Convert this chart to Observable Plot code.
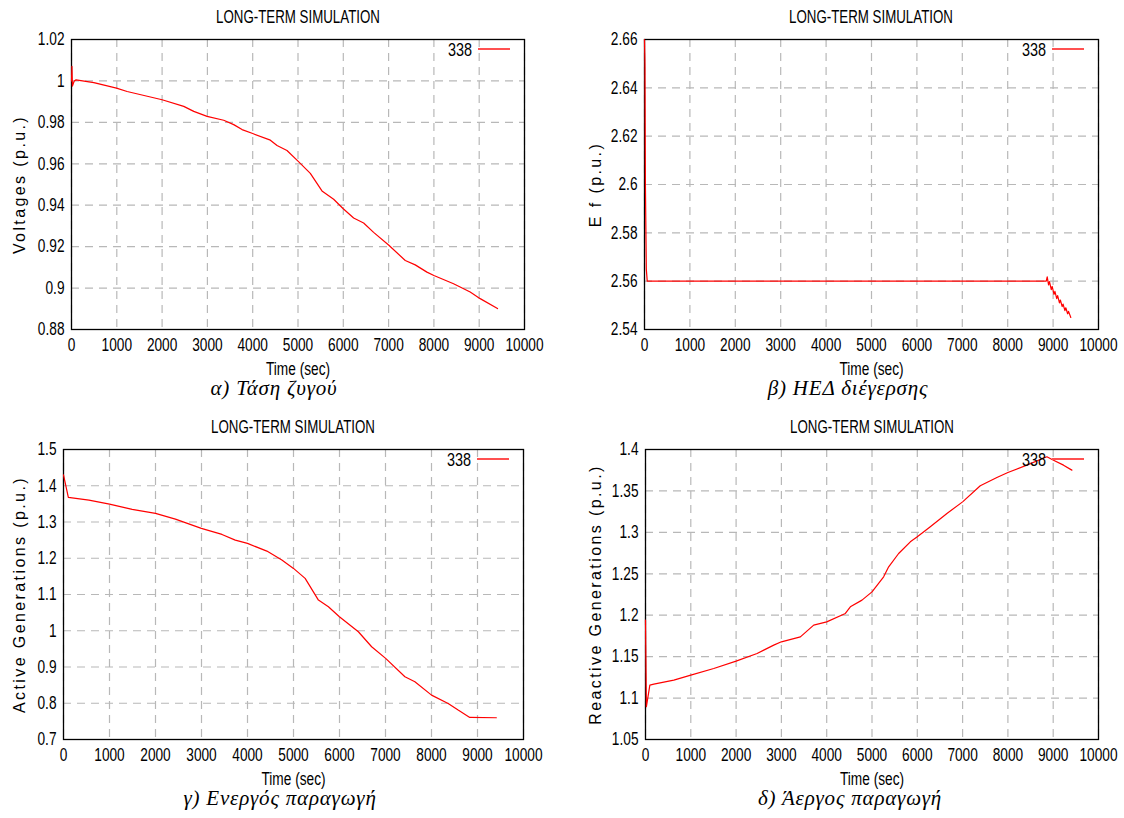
<!DOCTYPE html>
<html><head><meta charset="utf-8">
<script src="https://cdn.jsdelivr.net/npm/d3@7"></script>
<script src="https://cdn.jsdelivr.net/npm/@observablehq/plot@0.6"></script>
<style>
html,body{margin:0;padding:0;background:#fff;}
#root{position:relative;width:1124px;height:818px;overflow:hidden;background:#fff;}
#root svg{position:absolute;overflow:visible;}
.title{position:absolute;font-family:"Liberation Sans",Arial,sans-serif;font-size:19px;color:#000;transform:translateX(-50%) scaleX(0.7);white-space:nowrap;line-height:21px;}
.caption{position:absolute;font-family:"Liberation Serif","Times New Roman",serif;font-style:italic;font-size:21px;letter-spacing:0.8px;color:#000;transform:translateX(-50%);white-space:nowrap;line-height:24px;}
.legtext{position:absolute;font-family:"Liberation Sans",Arial,sans-serif;font-size:19px;color:#000;transform:translate(-100%,-50%) scaleX(0.76);transform-origin:right center;white-space:nowrap;line-height:20px;}
.legline{position:absolute;height:2px;background:#ff5050;}
</style>
</head><body>
<div id="root"></div>
<script>
// ---- Data ----
const xTicks = [0,1000,2000,3000,4000,5000,6000,7000,8000,9000,10000];

// a) bus voltage
const timeV = [0,10,20,60,100,493,993,1228,2000,2478,2699,2993,3360,3581,3765,4000,4390,4537,4757,5000,5272,5529,5787,5993,6228,6449,6669,7000,7368,7588,7846,8000,8434,8801,9022,9404];
const voltage = [1.0,1.007,0.9975,1.0,1.0005,0.9992,0.9965,0.9949,0.9909,0.9877,0.9853,0.9829,0.981,0.9789,0.9765,0.9746,0.9714,0.9688,0.9664,0.9613,0.9554,0.9469,0.9429,0.9384,0.9338,0.9314,0.9269,0.9208,0.9133,0.9112,0.9077,0.9061,0.9021,0.8981,0.8949,0.8901];
const yTicksV = [0.88,0.9,0.92,0.94,0.96,0.98,1,1.02];

// b) field EMF
const timeEf = [0,10,20,40,60,8850,8870,8900,8920,8960,8980,9020,9040,9080,9100,9140,9160,9200,9220,9260,9280,9320,9340,9390];
const ef = [2.66,2.65,2.60,2.565,2.56,2.56,2.5618,2.5585,2.5598,2.5565,2.5578,2.5545,2.5558,2.5528,2.554,2.551,2.5522,2.5495,2.5505,2.5478,2.549,2.5465,2.5475,2.545];
const yTicksEf = [2.54,2.56,2.58,2.6,2.62,2.64,2.66];

// c) active generation
const timeP = [0,105,553,1000,1493,2000,2433,2997,3445,3734,4000,4421,4747,5000,5253,5542,5759,5998,6410,6699,7003,7422,7639,8001,8362,8579,8832,9410];
const active = [1.43,1.3678,1.3605,1.3494,1.3347,1.3237,1.308,1.2823,1.2657,1.2501,1.2409,1.2198,1.195,1.172,1.1444,1.0846,1.0662,1.0386,0.9972,0.9559,0.9237,0.8731,0.8593,0.8225,0.7995,0.7811,0.761,0.760];
const yTicksP = [0.7,0.8,0.9,1,1.1,1.2,1.3,1.4,1.5];

// d) reactive generation
const timeQ = [0,20,96,184,625,1000,1507,2000,2463,2831,3000,3419,3713,4000,4412,4522,4779,5000,5257,5368,5588,5846,6000,6287,6654,7000,7390,7757,8000,8419,8860,9007,9228,9412];
const reactive = [1.194,1.0895,1.1156,1.1168,1.1216,1.1277,1.1357,1.1446,1.1538,1.1639,1.1679,1.1739,1.188,1.192,1.2021,1.2101,1.2182,1.2282,1.2464,1.2584,1.2745,1.2886,1.2946,1.3067,1.3228,1.3368,1.3562,1.3662,1.3722,1.3811,1.3912,1.3871,1.3811,1.3751];
const yTicksQ = [1.05,1.1,1.15,1.2,1.25,1.3,1.35,1.4];

const titles = ["LONG-TERM SIMULATION","LONG-TERM SIMULATION","LONG-TERM SIMULATION","LONG-TERM SIMULATION"];
const yLabels = ["Voltages (p.u.)","E f (p.u.)","Active Generations (p.u.)","Reactive Generations (p.u.)"];
const captions = ["α) Τάση ζυγού","β) ΗΕΔ διέγερσης","γ) Ενεργός παραγωγή","δ) Άεργος παραγωγή"];
const xLabel = "Time (sec)";
const seriesName = "338";

// ---- Layout ----
const root = document.getElementById("root");
const panels = [
  {t:timeV, v:voltage, dom:[0.88,1.02], yt:yTicksV, svgLeft:0, svgTop:0, ml:71, mt:39, w:453, h:290, mr:30, capX:274, capTop:376, labOff:58},
  {t:timeEf, v:ef, dom:[2.54,2.66], yt:yTicksEf, svgLeft:562, svgTop:0, ml:82, mt:39, w:454, h:290, mr:26, capX:848, capTop:376, labOff:55},
  {t:timeP, v:active, dom:[0.7,1.5], yt:yTicksP, svgLeft:0, svgTop:410, ml:63, mt:39, w:460, h:290, mr:30, capX:280, capTop:786, labOff:50},
  {t:timeQ, v:reactive, dom:[1.05,1.4], yt:yTicksQ, svgLeft:562, svgTop:410, ml:83, mt:39, w:453, h:290, mr:26, capX:850, capTop:786, labOff:56}
];

function squeeze(t, s) {
  const L = t.getComputedTextLength();
  if (L > 0) {
    t.setAttribute("textLength", (L * s).toFixed(2));
    t.setAttribute("lengthAdjust", "spacingAndGlyphs");
  }
}

panels.forEach((p, i) => {
  const rows = p.t.map((t, j) => ({t, v: p.v[j]}));
  const gridStyle = {stroke:"#b8b8b8", strokeOpacity:1, strokeWidth:1.2, strokeDasharray:"8,6"};
  const chart = Plot.plot({
    width: p.ml + p.w + p.mr,
    height: p.mt + p.h + 60,
    marginLeft: p.ml, marginRight: p.mr, marginTop: p.mt, marginBottom: 60,
    x: {domain:[0,10000]},
    y: {domain:p.dom},
    style: {fontFamily:'"Liberation Sans",Arial,sans-serif', fontSize:"18px", color:"#000", background:"transparent", overflow:"visible"},
    marks: [
      Plot.gridX(xTicks, gridStyle),
      Plot.gridY(p.yt, gridStyle),
      Plot.axisX(xTicks, {tickSize:0, tickPadding:9, tickFormat:d => String(d), label:xLabel, labelAnchor:"center", labelArrow:"none", labelOffset:45}),
      Plot.axisY(p.yt, {tickSize:0, tickPadding:7, tickFormat:d3.format("~g"), label:yLabels[i], labelAnchor:"center", labelArrow:"none", labelOffset:p.labOff}),
      Plot.frame({stroke:"#000", strokeWidth:1.3}),
      Plot.line(rows, {x:"t", y:"v", stroke:"#ff0000", strokeWidth:1.2})
    ]
  });
  chart.style.left = p.svgLeft + "px";
  chart.style.top = p.svgTop + "px";
  root.appendChild(chart);
  chart.querySelectorAll('g[aria-label="x-axis tick label"] text, g[aria-label="y-axis tick label"] text, g[aria-label="x-axis label"] text')
    .forEach(t => squeeze(t, 0.76));
  const yl = chart.querySelector('g[aria-label="y-axis label"] text');
  if (yl) { yl.style.letterSpacing = "2.4px"; yl.style.fontSize = "16px"; }

  const plotLeft = p.svgLeft + p.ml, plotTop = p.svgTop + p.mt, plotRight = plotLeft + p.w;
  const title = document.createElement("div");
  title.className = "title";
  title.textContent = titles[i];
  title.style.left = (plotLeft + p.w / 2) + "px";
  title.style.top = (plotTop - 33) + "px";
  root.appendChild(title);

  const cap = document.createElement("div");
  cap.className = "caption";
  cap.textContent = captions[i];
  cap.style.left = p.capX + "px";
  cap.style.top = p.capTop + "px";
  root.appendChild(cap);

  const lt = document.createElement("div");
  lt.className = "legtext";
  lt.textContent = seriesName;
  lt.style.left = (plotRight - 52) + "px";
  lt.style.top = (plotTop + 11) + "px";
  root.appendChild(lt);
  const ll = document.createElement("div");
  ll.className = "legline";
  ll.style.left = (plotRight - 46) + "px";
  ll.style.width = "32px";
  ll.style.top = (plotTop + 9) + "px";
  root.appendChild(ll);
});
</script>
</body></html>
